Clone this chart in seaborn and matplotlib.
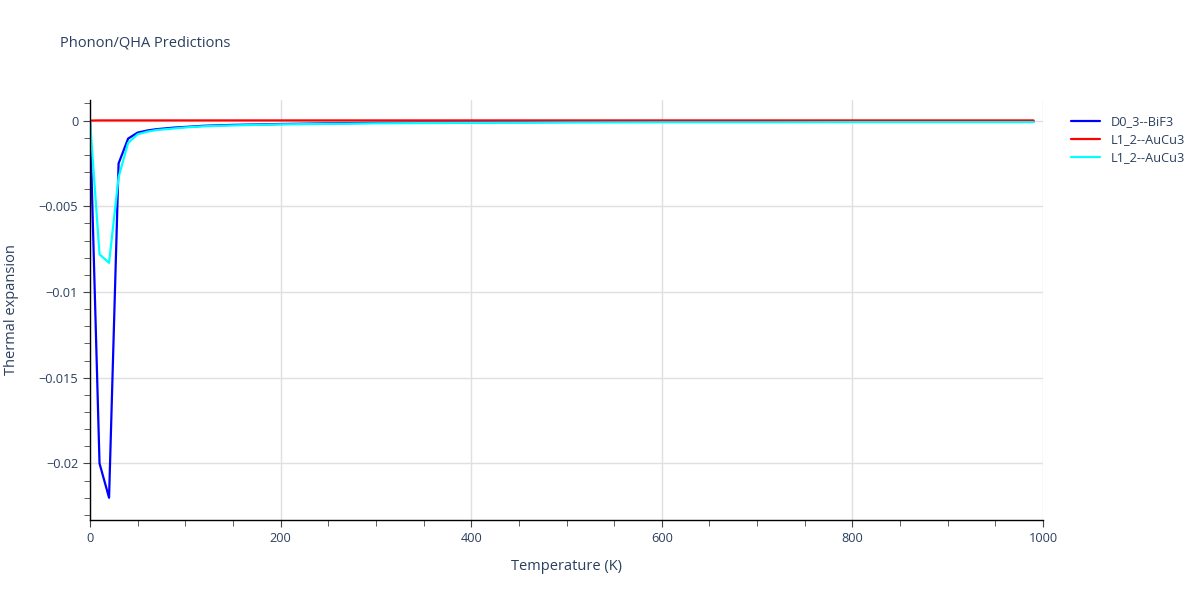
import numpy as np
import pandas as pd
import matplotlib
matplotlib.use("Agg")
import matplotlib.pyplot as plt
import seaborn as sns
from matplotlib.ticker import MultipleLocator, FuncFormatter

# temperatures (K) sampled along the curves
temperature = [0, 10, 20, 30, 40, 50, 60, 70, 80, 90, 100, 120, 150, 200,
               250, 300, 400, 500, 600, 700, 800, 900, 990]

# D0_3--BiF3
bif3 = [0, -0.0200, -0.0220, -0.0025, -0.00105, -0.0007, -0.00058, -0.0005,
        -0.00045, -0.0004, -0.00037, -0.0003, -0.00025, -0.0002, -0.00016,
        -0.00013, -0.0001, -0.00008, -0.00007, -0.00006, -0.00005, -0.00005,
        -0.00004]
# L1_2--AuCu3 (red)
aucu3_a = [0, 0.00001, 0.00001, 0.00001, 0.00001, 0.00001, 0.00001, 0.00001,
           0.00001, 0.00001, 0.00001, 0.00001, 0.00001, 0.00001, 0.00001,
           0.00001, 0.00001, 0.00001, 0.00001, 0.00001, 0.00001, 0.00001,
           0.00001]
# L1_2--AuCu3 (cyan)
aucu3_b = [0, -0.0078, -0.0083, -0.0033, -0.0013, -0.0008, -0.00065, -0.00055,
           -0.0005, -0.00045, -0.0004, -0.00033, -0.00028, -0.00022, -0.00019,
           -0.00016, -0.00013, -0.00011, -0.0001, -0.0001, -0.00009, -0.00009,
           -0.00009]

series = [
    ("D0_3--BiF3", bif3, "#0000ff"),
    ("L1_2--AuCu3", aucu3_a, "#ff0000"),
    ("L1_2--AuCu3", aucu3_b, "#00ffff"),
]

sns.set_style("white")
plt.rcParams["font.family"] = ["Open Sans", "DejaVu Sans"]
text_color = "#2a3f5f"

fig = plt.figure(figsize=(12, 6), dpi=100)
ax = fig.add_axes([0.075, 0.1333, 0.7942, 0.7])

for name, values, color in series:
    df = pd.DataFrame({"T": temperature, "alpha": values})
    sns.lineplot(data=df, x="T", y="alpha", ax=ax, color=color, lw=1.6,
                 label=name, legend=False)

ax.set_xlim(0, 1000)
ax.set_ylim(-0.0233, 0.0012)

ax.xaxis.set_major_locator(MultipleLocator(200))
ax.xaxis.set_minor_locator(MultipleLocator(50))
ax.yaxis.set_major_locator(MultipleLocator(0.005))
ax.yaxis.set_minor_locator(MultipleLocator(0.001))
ax.yaxis.set_major_formatter(FuncFormatter(lambda v, p: ("%g" % round(v, 6)).replace("-", "\u2212")))

ax.grid(True, which="major", color="#e0e0e0", lw=1)
ax.set_axisbelow(True)
for s in ["top", "right"]:
    ax.spines[s].set_visible(False)
for s in ["left", "bottom"]:
    ax.spines[s].set_color("black")
    ax.spines[s].set_linewidth(1)

ax.tick_params(which="major", direction="out", length=5, color="#444444",
               labelsize=9.2, labelcolor=text_color)
ax.tick_params(which="minor", direction="out", length=4, color="#444444")
ax.tick_params(axis="both", which="both", left=True, bottom=True)

ax.set_xlabel("Temperature (K)", fontsize=10.5, color=text_color, labelpad=10)
ax.set_ylabel("Thermal expansion", fontsize=10.5, color=text_color, labelpad=14)

fig.text(0.05, 0.922, "Phonon/QHA Predictions", fontsize=10.5, color=text_color)

handles, labels = ax.get_legend_handles_labels()
leg = fig.legend(handles, labels, loc="upper left", bbox_to_anchor=(0.883, 0.827),
                 frameon=False, fontsize=9.2, handlelength=2.3, labelspacing=0.4)
for t in leg.get_texts():
    t.set_color(text_color)

fig.savefig("out.png", dpi=100)
